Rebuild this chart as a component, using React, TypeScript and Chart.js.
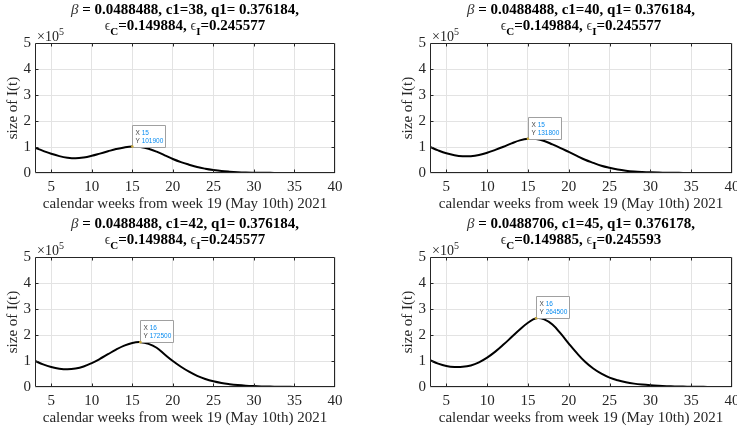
import React, { useEffect, useRef } from 'react';
import { Chart, registerables } from 'chart.js';

Chart.register(...registerables);

// ---------------- data ----------------
const weeks = [3, 4, 5, 6, 7, 8, 9, 10, 11, 12, 13, 14, 15, 16, 17, 18, 19, 20, 21, 22, 23, 24, 25, 26, 27, 28, 29, 30, 31, 32, 33, 34, 35, 36, 37, 38, 39, 40];

const infectedC38 = [97000, 85000, 74000, 65000, 59000, 56500, 59500, 66000, 74500, 83500, 92000, 98500, 101900, 99500, 93000, 82000, 68000, 54000, 42000, 32000, 23000, 16500, 11500, 7500, 5000, 3200, 2000, 1300, 800, 500, 320, 200, 130, 80, 50, 30, 20, 12];
const infectedC40 = [100000, 87000, 76000, 68500, 64500, 64500, 69000, 78000, 89000, 101000, 114000, 125500, 131800, 130500, 123000, 110000, 96000, 81000, 66000, 51000, 39000, 28000, 20000, 13500, 9000, 6000, 4000, 2600, 1700, 1100, 700, 450, 300, 200, 120, 80, 50, 30];
const infectedC42 = [100000, 87000, 77000, 70500, 68000, 71000, 79000, 92000, 108000, 126000, 144000, 159000, 169500, 172500, 166000, 151000, 125000, 100000, 78000, 59000, 43000, 31000, 22000, 15500, 11000, 7500, 5000, 3400, 2300, 1500, 1000, 650, 430, 280, 180, 120, 80, 50];
const infectedC45 = [103000, 90000, 81000, 77000, 77500, 83000, 95000, 113000, 136000, 163000, 192000, 221000, 247000, 264500, 260000, 240000, 206000, 167000, 130000, 97000, 71000, 51000, 36000, 26000, 18500, 13000, 9200, 6500, 4600, 3200, 2200, 1500, 1000, 700, 480, 330, 230, 160];

const seriesList = [infectedC38, infectedC40, infectedC42, infectedC45];

const betaValues = ['0.0488488', '0.0488488', '0.0488488', '0.0488706'];
const c1Values = ['38', '40', '42', '45'];
const q1Values = ['0.376184', '0.376184', '0.376184', '0.376178'];
const epsCValues = ['0.149884', '0.149884', '0.149884', '0.149885'];
const epsIValues = ['0.245577', '0.245577', '0.245577', '0.245593'];

const tipX = [15, 15, 16, 16];
const tipY = [101900, 131800, 172500, 264500];

const xTickValues = [5, 10, 15, 20, 25, 30, 35, 40];
const yTickValues = [0, 100000, 200000, 300000, 400000, 500000];
const yExponent = '5';

const xAxisLabel = 'calendar weeks from week 19 (May 10th) 2021';
const yAxisLabel = 'size of I(t)';

// ---------------- layout ----------------
const panels = [
  { left: 0, top: 0, width: 368, height: 214, plotLeft: 35, plotRight: 335 },
  { left: 368, top: 0, width: 369, height: 214, plotLeft: 62, plotRight: 364 },
  { left: 0, top: 214, width: 368, height: 215, plotLeft: 35, plotRight: 335 },
  { left: 368, top: 214, width: 369, height: 215, plotLeft: 62, plotRight: 364 },
];
const PLOT_TOP = 43;
const PLOT_BOTTOM = 173;

const SERIF = '"Liberation Serif", "Times New Roman", serif';
const GREEK = '"Liberation Serif", "DejaVu Serif", serif';
const AXIS_COLOR = '#262626';

type Seg = { t: string; kind: 'b' | 'bi' | 'g' | 'sub' };

function segFont(kind: Seg['kind']) {
  if (kind === 'b') return `bold 15px ${SERIF}`;
  if (kind === 'bi') return `italic 15px ${GREEK}`;
  if (kind === 'g') return `14px ${GREEK}`;
  return `bold 11px ${SERIF}`;
}

function drawRich(ctx: CanvasRenderingContext2D, segs: Seg[], cx: number, baseline: number) {
  let total = 0;
  const widths = segs.map((s) => {
    ctx.font = segFont(s.kind);
    const w = ctx.measureText(s.t).width;
    total += w;
    return w;
  });
  let x = cx - total / 2;
  segs.forEach((s, i) => {
    ctx.font = segFont(s.kind);
    ctx.fillStyle = s.kind === 'g' || s.kind === 'bi' ? '#333333' : '#000000';
    ctx.textAlign = 'left';
    ctx.textBaseline = 'alphabetic';
    ctx.fillText(s.t, x, baseline + (s.kind === 'sub' ? 5 : 0));
    x += widths[i];
  });
}

function makeDecor(idx: number) {
  return {
    id: 'matlabDecor' + idx,
    afterDraw(chart: any) {
      const ctx: CanvasRenderingContext2D = chart.ctx;
      const { left, right, top, bottom } = chart.chartArea;
      const xs = chart.scales.x;
      const ys = chart.scales.y;
      ctx.save();

      // box
      ctx.strokeStyle = AXIS_COLOR;
      ctx.lineWidth = 1;
      const L = Math.round(left) + 0.5;
      const R = Math.round(right) - 0.5;
      const T = Math.round(top) + 0.5;
      const B = Math.round(bottom) - 0.5;
      ctx.beginPath();
      ctx.rect(L, T, R - L, B - T);
      ctx.stroke();

      // inward ticks on all sides
      ctx.beginPath();
      xTickValues.forEach((v) => {
        const px = Math.round(xs.getPixelForValue(v)) + 0.5;
        if (px <= L + 1 || px >= R - 1) return;
        ctx.moveTo(px, B);
        ctx.lineTo(px, B - 3);
        ctx.moveTo(px, T);
        ctx.lineTo(px, T + 3);
      });
      yTickValues.forEach((v) => {
        const py = Math.round(ys.getPixelForValue(v)) + 0.5;
        if (py <= T + 1 || py >= B - 1) return;
        ctx.moveTo(L, py);
        ctx.lineTo(L + 3, py);
        ctx.moveTo(R, py);
        ctx.lineTo(R - 3, py);
      });
      ctx.stroke();

      // exponent label
      ctx.fillStyle = AXIS_COLOR;
      ctx.textAlign = 'left';
      ctx.textBaseline = 'alphabetic';
      ctx.font = `14px ${SERIF}`;
      const baseTxt = '\u00d710';
      ctx.fillText(baseTxt, left + 2, top - 2);
      const bw = ctx.measureText(baseTxt).width;
      ctx.font = `10px ${SERIF}`;
      ctx.fillText(yExponent, left + 2 + bw, top - 8);

      // axis labels
      ctx.font = `15px ${SERIF}`;
      ctx.fillStyle = AXIS_COLOR;
      ctx.textAlign = 'center';
      ctx.textBaseline = 'alphabetic';
      ctx.fillText(xAxisLabel, (left + right) / 2, bottom + 35);
      ctx.save();
      ctx.translate(left - 22, (top + bottom) / 2);
      ctx.rotate(-Math.PI / 2);
      ctx.textBaseline = 'middle';
      ctx.fillText(yAxisLabel, 0, 0);
      ctx.restore();

      // title
      const cx = (left + right) / 2;
      drawRich(
        ctx,
        [
          { t: '\u03b2', kind: 'bi' },
          { t: ` = ${betaValues[idx]}, c1=${c1Values[idx]}, q1= ${q1Values[idx]},`, kind: 'b' },
        ],
        cx,
        top - 29
      );
      drawRich(
        ctx,
        [
          { t: '\u03f5', kind: 'g' },
          { t: 'C', kind: 'sub' },
          { t: `=${epsCValues[idx]}, `, kind: 'b' },
          { t: '\u03f5', kind: 'g' },
          { t: 'I', kind: 'sub' },
          { t: `=${epsIValues[idx]}`, kind: 'b' },
        ],
        cx,
        top - 13
      );

      // data tip
      const px = xs.getPixelForValue(tipX[idx]);
      const py = ys.getPixelForValue(tipY[idx]);
      const bx = Math.round(px) + 0.5;
      const by = Math.round(py - 22) + 0.5;
      const bwid = 33;
      const bh = 22;
      ctx.fillStyle = '#ffffff';
      ctx.strokeStyle = '#a0a0a0';
      ctx.lineWidth = 1;
      ctx.beginPath();
      ctx.rect(bx, by, bwid, bh);
      ctx.fill();
      ctx.stroke();
      ctx.font = `6.5px "Liberation Sans", Arial, sans-serif`;
      ctx.textAlign = 'left';
      ctx.textBaseline = 'alphabetic';
      const rows: [string, string][] = [
        ['X ', String(tipX[idx])],
        ['Y ', String(tipY[idx])],
      ];
      rows.forEach((r, i) => {
        const yy = by + 9 + i * 8;
        ctx.fillStyle = '#444444';
        ctx.fillText(r[0], bx + 3, yy);
        const w = ctx.measureText(r[0]).width;
        ctx.fillStyle = '#0a8cf0';
        ctx.fillText(r[1], bx + 3 + w, yy);
      });
      ctx.fillStyle = '#c8a838';
      ctx.beginPath();
      ctx.arc(px, py, 1.3, 0, Math.PI * 2);
      ctx.fill();

      ctx.restore();
    },
  };
}

function Panel({ idx }: { idx: number }) {
  const ref = useRef<HTMLCanvasElement | null>(null);
  const p = panels[idx];
  useEffect(() => {
    if (!ref.current) return;
    const series = seriesList[idx];
    const chart = new Chart(ref.current, {
      type: 'line',
      data: {
        datasets: [
          {
            data: weeks.map((w, i) => ({ x: w, y: series[i] })),
            borderColor: '#000000',
            borderWidth: 2,
            pointRadius: 0,
            fill: false,
            tension: 0.4,
          },
        ],
      },
      options: {
        animation: false,
        responsive: false,
        devicePixelRatio: 1,
        layout: {
          padding: { left: 0, top: PLOT_TOP, right: p.width - p.plotRight, bottom: 0 },
        },
        plugins: {
          legend: { display: false },
          tooltip: { enabled: false },
          title: { display: false },
        },
        scales: {
          x: {
            type: 'linear',
            min: 3,
            max: 40,
            afterBuildTicks: (s: any) => {
              s.ticks = xTickValues.map((v) => ({ value: v }));
            },
            afterFit: (s: any) => {
              s.height = p.height - PLOT_BOTTOM;
              s.paddingLeft = 0;
              s.paddingRight = 0;
              s.paddingTop = 0;
              s.paddingBottom = 0;
            },
            ticks: {
              autoSkip: false,
              maxRotation: 0,
              padding: 5,
              color: AXIS_COLOR,
              font: { family: SERIF, size: 15 },
            },
            grid: { color: '#e3e3e3', drawTicks: false, lineWidth: 1 },
            border: { display: false },
          },
          y: {
            type: 'linear',
            min: 0,
            max: 500000,
            afterBuildTicks: (s: any) => {
              s.ticks = yTickValues.map((v) => ({ value: v }));
            },
            afterFit: (s: any) => {
              s.width = p.plotLeft;
              s.paddingLeft = 0;
              s.paddingRight = 0;
              s.paddingTop = 0;
              s.paddingBottom = 0;
            },
            ticks: {
              padding: 4,
              color: AXIS_COLOR,
              font: { family: SERIF, size: 15 },
              callback: (v: any) => String(Number(v) / 100000),
            },
            grid: { color: '#e3e3e3', drawTicks: false, lineWidth: 1 },
            border: { display: false },
          },
        },
      } as any,
      plugins: [makeDecor(idx)],
    });
    return () => chart.destroy();
  }, [idx]);
  return (
    <canvas
      ref={ref}
      width={p.width}
      height={p.height}
      style={{ position: 'absolute', left: p.left, top: p.top, width: p.width, height: p.height, display: 'block' }}
    />
  );
}

export default function App() {
  return (
    <div style={{ position: 'fixed', left: 0, top: 0, width: 737, height: 429, background: '#ffffff', overflow: 'hidden' }}>
      {panels.map((_, i) => (
        <Panel key={i} idx={i} />
      ))}
    </div>
  );
}
